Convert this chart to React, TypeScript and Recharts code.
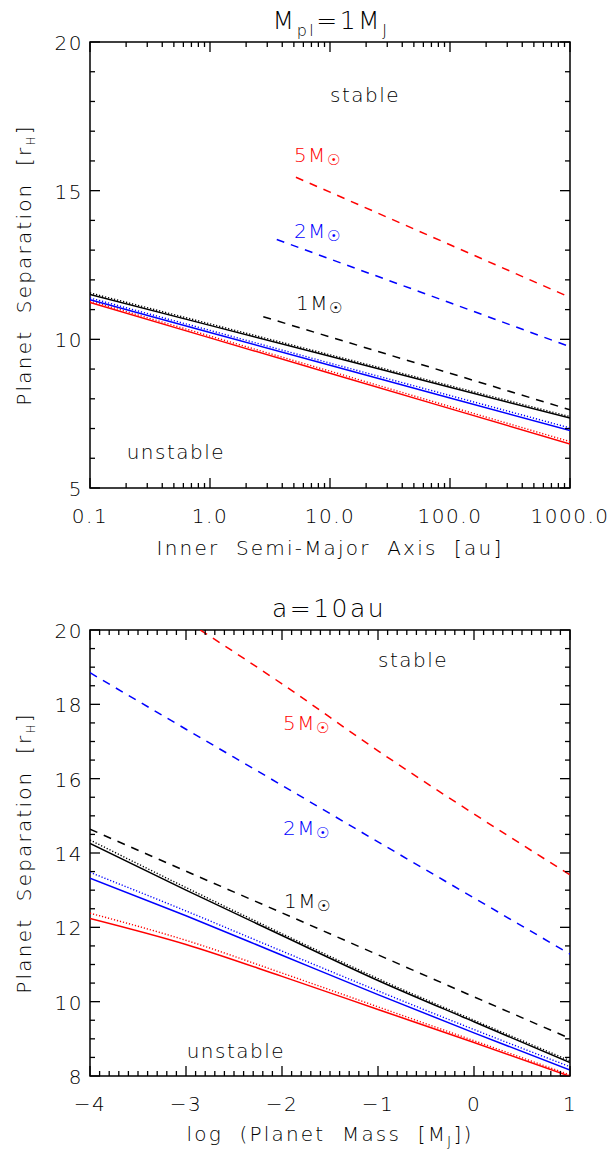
import { LineChart, Line, XAxis, YAxis, ReferenceArea, ReferenceDot } from "recharts";

const FONT = "'DejaVu Sans', 'Liberation Sans', sans-serif";
const RED = "#ff0000";
const BLUE = "#0000ff";
const BLACK = "#000000";

// layout of both panels (plot box 480 x 446)
const PLOT_W = 480;
const PLOT_H = 446;
const TOP_H = 560;
const BOT_H = 590;

// ---- top panel: M_pl = 1 M_J, x = inner semi-major axis [au] (log)
const topXMajor = [0.1, 1, 10, 100, 1000];
const topXLabels = ["0.1", "1.0", "10.0", "100.0", "1000.0"];
const topYMajor = [5, 10, 15, 20];
const topYLabels = ["5", "10", "15", "20"];

const topA = [0.1, 1, 10, 100, 1000];
const top1Solid = [11.51, 10.47, 9.43, 8.39, 7.35];
const top1Dotted = [11.56, 10.52, 9.48, 8.44, 7.4];
const top2Solid = [11.33, 10.23, 9.13, 8.03, 6.93];
const top2Dotted = [11.39, 10.3, 9.2, 8.11, 7.02];
const top5Solid = [11.24, 10.05, 8.86, 7.67, 6.48];
const top5Dotted = [11.29, 10.11, 8.93, 7.74, 6.56];

const top1DashedA = [2.78, 10, 100, 1000];
const top1Dashed = [10.76, 10.08, 8.86, 7.63];
const top2DashedA = [3.6, 10, 100, 1000];
const top2Dashed = [13.36, 12.7, 11.23, 9.75];
const top5DashedA = [5.2, 10, 100, 1000];
const top5Dashed = [15.45, 14.95, 13.18, 11.41];

// ---- bottom panel: a = 10 au, x = log planet mass [M_J]
const botXMajor = [-4, -3, -2, -1, 0, 1];
const botXLabels = ["\u22124", "\u22123", "\u22122", "\u22121", "0", "1"];
const botYMajor = [8, 10, 12, 14, 16, 18, 20];
const botYLabels = ["8", "10", "12", "14", "16", "18", "20"];

const botM = [-4, -3, -2, -1, 0, 1];
const bot1Solid = [14.26, 13.0, 11.78, 10.57, 9.46, 8.36];
const bot1Dotted = [14.35, 13.07, 11.83, 10.62, 9.5, 8.41];
const bot2Solid = [13.32, 12.31, 11.25, 10.19, 9.16, 8.16];
const bot2Dotted = [13.48, 12.44, 11.36, 10.29, 9.25, 8.25];
const bot5Solid = [12.24, 11.54, 10.68, 9.79, 8.9, 7.99];
const bot5Dotted = [12.38, 11.65, 10.77, 9.86, 8.95, 8.03];
const bot1Dashed = [14.64, 13.51, 12.39, 11.26, 10.13, 9.01];
const bot2Dashed = [18.85, 17.33, 15.82, 14.3, 12.79, 11.28];
const bot5DashedM = [-2.85, -2, -1, 0, 1];
const bot5Dashed = [20.0, 18.55, 16.75, 15.05, 13.41];

const zip = (xs: number[], ys: number[]) => xs.map((x, i) => ({ x, y: ys[i] }));

// tick positions (majors + minors)
const logTicks = (() => {
  const out: number[] = [];
  topXMajor.slice(0, -1).forEach((d) => {
    for (let k = 1; k < 10; k++) out.push(+(d * k).toPrecision(6));
  });
  out.push(1000);
  return out;
})();
const topYTicks = Array.from({ length: 16 }, (_, i) => 5 + i);
const botXTicks = Array.from({ length: 51 }, (_, i) => Math.round(-40 + i) / 10);
const botYTicks = Array.from({ length: 25 }, (_, i) => 8 + i * 0.5);

const findMajor = (majors: number[], v: number) =>
  majors.findIndex((m) => Math.abs(m - v) < 1e-9);

const txt = { fontFamily: FONT, fontSize: 20, fontWeight: 300, letterSpacing: 1.5, fill: "#000" };
const axisTxt = { ...txt, letterSpacing: 2.2, wordSpacing: 8 };
const titleTxt = { ...txt, fontSize: 25, letterSpacing: 2.5 };

const makeXTick = (majors: number[], labels: string[]) => (p: any) => {
  const { x, y, payload } = p;
  const i = findMajor(majors, payload.value);
  const len = i >= 0 ? 10 : 5;
  return (
    <g>
      <line x1={x} x2={x} y1={y} y2={y - len} stroke="#000" strokeWidth={1.3} />
      <line x1={x} x2={x} y1={y - PLOT_H} y2={y - PLOT_H + len} stroke="#000" strokeWidth={1.3} />
      {i >= 0 && (
        <text x={x} y={y + 35} textAnchor="middle" {...txt}>
          {labels[i]}
        </text>
      )}
    </g>
  );
};

const makeYTick = (majors: number[], labels: string[]) => (p: any) => {
  const { x, y, payload } = p;
  const i = findMajor(majors, payload.value);
  const len = i >= 0 ? 10 : 5;
  return (
    <g>
      <line x1={x} x2={x + len} y1={y} y2={y} stroke="#000" strokeWidth={1.3} />
      <line x1={x + PLOT_W - len} x2={x + PLOT_W} y1={y} y2={y} stroke="#000" strokeWidth={1.3} />
      {i >= 0 && (
        <text x={x - 7} y={y + 8} textAnchor="end" {...txt}>
          {labels[i]}
        </text>
      )}
    </g>
  );
};

const sun = (color: string) => (
  <tspan fontSize={15} dy={3} fill={color}>
    {"\u2609"}
  </tspan>
);

const ann = (text: string, color: string, anchor: "start" | "middle", withSun = false) => (p: any) => {
  const vb = p.viewBox || {};
  return (
    <text x={vb.x} y={vb.y} textAnchor={anchor} {...txt} fill={color}>
      {text}
      {withSun && sun(color)}
    </text>
  );
};

const annotation = (x: number, y: number, label: any, key: string) => (
  <ReferenceDot key={key} x={x} y={y} r={0} stroke="none" fill="none" label={label} />
);

const series = (
  data: { x: number; y: number }[],
  color: string,
  style: "solid" | "dotted" | "dashed",
  key: string,
  curve: "linear" | "monotone" = "linear"
) => (
  <Line
    key={key}
    data={data}
    dataKey="y"
    type={curve}
    stroke={color}
    strokeWidth={style === "dotted" ? 1.4 : 1.5}
    strokeDasharray={style === "dotted" ? "1.2 1.9" : style === "dashed" ? "8 7" : undefined}
    dot={false}
    activeDot={false}
    isAnimationActive={false}
  />
);

const YTitle = ({ cy }: { cy: number }) => (
  <text transform={`translate(31,${cy}) rotate(-90)`} textAnchor="middle" {...axisTxt}>
    Planet Separation [r
    <tspan fontSize={12} dy={4}>
      H
    </tspan>
    <tspan dy={-4}>]</tspan>
  </text>
);

const App = () => {
  return (
    <div style={{ position: "absolute", left: 0, top: 0, width: 612, height: 1150, background: "#fff" }}>
      <div style={{ position: "absolute", left: 0, top: 0 }}>
        <LineChart width={612} height={TOP_H} margin={{ top: 42, right: 42, left: 0, bottom: 0 }}>
          <XAxis
            type="number"
            dataKey="x"
            scale="log"
            domain={[0.1, 1000]}
            allowDataOverflow
            ticks={logTicks}
            interval={0}
            height={TOP_H - 42 - PLOT_H}
            tickSize={0}
            tickMargin={0}
            axisLine={false}
            tickLine={false}
            tick={makeXTick(topXMajor, topXLabels)}
          />
          <YAxis
            type="number"
            domain={[5, 20]}
            allowDataOverflow
            ticks={topYTicks}
            interval={0}
            width={90}
            tickSize={0}
            tickMargin={0}
            axisLine={false}
            tickLine={false}
            tick={makeYTick(topYMajor, topYLabels)}
          />
          <ReferenceArea x1={0.1} x2={1000} y1={5} y2={20} fill="none" fillOpacity={0} stroke="#000" strokeWidth={1.5} />
          {series(zip(topA, top5Solid), RED, "solid", "t5s")}
          {series(zip(topA, top5Dotted), RED, "dotted", "t5d")}
          {series(zip(topA, top2Solid), BLUE, "solid", "t2s")}
          {series(zip(topA, top2Dotted), BLUE, "dotted", "t2d")}
          {series(zip(topA, top1Solid), BLACK, "solid", "t1s")}
          {series(zip(topA, top1Dotted), BLACK, "dotted", "t1d")}
          {series(zip(top1DashedA, top1Dashed), BLACK, "dashed", "t1x")}
          {series(zip(top2DashedA, top2Dashed), BLUE, "dashed", "t2x")}
          {series(zip(top5DashedA, top5Dashed), RED, "dashed", "t5x")}
          {annotation(19.6, 17.98, ann("stable", BLACK, "middle"), "a1")}
          {annotation(0.52, 5.97, ann("unstable", BLACK, "middle"), "a2")}
          {annotation(5.0, 15.95, ann("5M", RED, "start", true), "a3")}
          {annotation(5.0, 13.42, ann("2M", BLUE, "start", true), "a4")}
          {annotation(5.2, 10.97, ann("1M", BLACK, "start", true), "a5")}
        </LineChart>
      </div>
      <div style={{ position: "absolute", left: 0, top: TOP_H }}>
        <LineChart width={612} height={BOT_H} margin={{ top: 70, right: 42, left: 0, bottom: 0 }}>
          <XAxis
            type="number"
            dataKey="x"
            domain={[-4, 1]}
            allowDataOverflow
            ticks={botXTicks}
            interval={0}
            height={BOT_H - 70 - PLOT_H}
            tickSize={0}
            tickMargin={0}
            axisLine={false}
            tickLine={false}
            tick={makeXTick(botXMajor, botXLabels)}
          />
          <YAxis
            type="number"
            domain={[8, 20]}
            allowDataOverflow
            ticks={botYTicks}
            interval={0}
            width={90}
            tickSize={0}
            tickMargin={0}
            axisLine={false}
            tickLine={false}
            tick={makeYTick(botYMajor, botYLabels)}
          />
          <ReferenceArea x1={-4} x2={1} y1={8} y2={20} fill="none" fillOpacity={0} stroke="#000" strokeWidth={1.5} />
          {series(zip(botM, bot5Solid), RED, "solid", "b5s", "monotone")}
          {series(zip(botM, bot5Dotted), RED, "dotted", "b5d", "monotone")}
          {series(zip(botM, bot2Solid), BLUE, "solid", "b2s", "monotone")}
          {series(zip(botM, bot2Dotted), BLUE, "dotted", "b2d", "monotone")}
          {series(zip(botM, bot1Solid), BLACK, "solid", "b1s", "monotone")}
          {series(zip(botM, bot1Dotted), BLACK, "dotted", "b1d", "monotone")}
          {series(zip(botM, bot1Dashed), BLACK, "dashed", "b1x", "monotone")}
          {series(zip(botM, bot2Dashed), BLUE, "dashed", "b2x", "monotone")}
          {series(zip(bot5DashedM, bot5Dashed), RED, "dashed", "b5x", "monotone")}
          {annotation(-0.635, 19.0, ann("stable", BLACK, "middle"), "c1")}
          {annotation(-2.48, 8.49, ann("unstable", BLACK, "middle"), "c2")}
          {annotation(-1.99, 17.31, ann("5M", RED, "start", true), "c3")}
          {annotation(-1.99, 14.48, ann("2M", BLUE, "start", true), "c4")}
          {annotation(-1.98, 12.52, ann("1M", BLACK, "start", true), "c5")}
        </LineChart>
      </div>
      <svg width={612} height={1150} style={{ position: "absolute", left: 0, top: 0, pointerEvents: "none" }}>
        <text x={331} y={29} textAnchor="middle" {...titleTxt}>
          M
          <tspan fontSize={16} dy={7}>pl</tspan>
          <tspan dy={-7}>=1M</tspan>
          <tspan fontSize={16} dy={7}>J</tspan>
        </text>
        <text x={330} y={555} textAnchor="middle" {...axisTxt}>
          Inner Semi-Major Axis [au]
        </text>
        <YTitle cy={265} />
        <text x={329} y={617} textAnchor="middle" {...titleTxt}>
          a=10au
        </text>
        <text x={330} y={1141} textAnchor="middle" {...axisTxt}>
          log (Planet Mass [M
          <tspan fontSize={14} dy={5}>J</tspan>
          <tspan dy={-5}>])</tspan>
        </text>
        <YTitle cy={853} />
      </svg>
    </div>
  );
};

export default App;
